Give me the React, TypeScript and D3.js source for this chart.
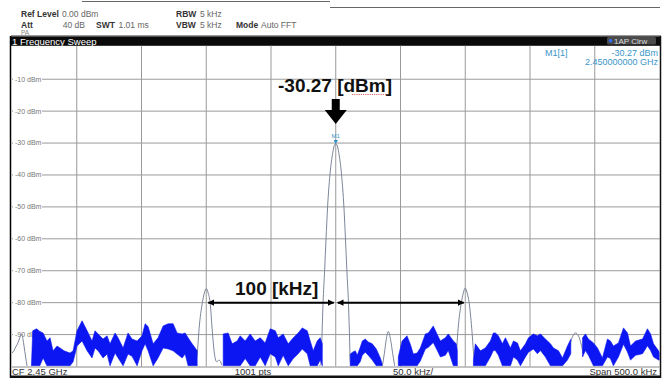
import * as d3 from "d3"

type Band = [number, number, number] // kHz offset, max dBm, min dBm
type Pt = [number, number] // kHz offset, dBm

const W = 665
const H = 378

const levelTicks = [-10, -20, -30, -40, -50, -60, -70, -80, -90]
const freqDivs = [-200, -150, -100, -50, 0, 50, 100, 150, 200]

const markerFreq = 0
const markerLevel = -30.27

// blue max/min hold band in pieces
const blueSeg1: Band[] = [
  [-235, -99.8, -99.8], [-234, -88.8, -99.8], [-231, -88.2, -99.8], [-228.5, -89.0, -99.8],
  [-226, -89.5, -97.3], [-223, -92.0, -99.8], [-220.6, -91.0, -99.8], [-218.3, -95.1, -99.8],
  [-215.2, -93.6, -99.8], [-212.9, -94.2, -99.8], [-209.8, -95.1, -99.8], [-205.2, -95.8, -99.8],
  [-202.8, -95.1, -98.5], [-199.8, -88.8, -93.6], [-195.9, -85.7, -92.0], [-192, -88.8, -95.1],
  [-188.2, -92.0, -97.3], [-185.9, -88.8, -94.2], [-183.5, -89.8, -95.1], [-179.7, -91.4, -97.3],
  [-176.6, -90.4, -96.1], [-174.3, -92.9, -99.8], [-170.4, -89.5, -95.8], [-168.1, -91.0, -97.3],
  [-164.2, -94.2, -99.8], [-160.4, -89.5, -96.1], [-157.3, -91.4, -96.8], [-153.4, -92.0, -99.8],
  [-149.6, -90.4, -95.1], [-147.2, -86.6, -92.9], [-144.9, -87.5, -95.1], [-141, -92.9, -99.8],
  [-137.2, -91.0, -97.3], [-133.3, -87.3, -94.2], [-129.4, -86.6, -94.5], [-125.6, -86.6, -95.1],
  [-122.5, -89.5, -96.1], [-118.6, -89.8, -97.3], [-116.3, -89.5, -96.1], [-114, -91.0, -99.8],
  [-110.9, -92.9, -99.8], [-108.5, -94.2, -99.8], [-107, -95.1, -99.8],
]
const blueSeg2: Band[] = [
  [-86.9, -89.8, -99.8], [-83.1, -89.5, -99.8], [-80, -92.9, -99.8], [-76.1, -92.0, -99.8],
  [-73.8, -90.4, -99.8], [-69.9, -92.0, -97.5], [-66.1, -89.8, -99.8], [-62.2, -92.0, -99.8],
  [-58.3, -91.0, -97.0], [-54.5, -92.6, -99.8], [-50.6, -88.2, -96.0], [-46.7, -88.8, -97.0],
  [-44.4, -91.0, -99.8], [-40.6, -89.8, -96.5], [-36.7, -92.9, -99.8], [-32.8, -91.0, -97.5],
  [-29, -89.5, -96.0], [-25.9, -87.9, -94.5], [-22, -88.8, -96.0], [-19.7, -92.0, -99.8],
  [-17.4, -95.1, -99.8], [-14.3, -92.0, -99.8], [-12, -91.0, -98.0], [-10.4, -92.9, -99.8],
]
const blueSeg3: Band[] = [
  [11.2, -96.1, -99.8], [13, -95.5, -99.8], [15.1, -95.1, -99.8], [16.6, -96.5, -99.8],
  [18.9, -94.0, -98.5], [20.5, -92.0, -96.5], [22.8, -91.4, -95.5], [25.1, -92.3, -96.5],
  [28.2, -92.9, -98.0], [31.3, -94.5, -99.8], [34.4, -97.3, -99.8], [35.7, -99.0, -99.8],
]
const blueSeg4: Band[] = [
  [48.3, -97.0, -99.8], [51.2, -92.0, -99.8], [55, -90.4, -99.8], [57.6, -93.0, -99.8],
  [59.9, -96.1, -99.8], [62.8, -95.8, -99.8], [65.3, -94.2, -98.3], [69.2, -89.8, -94.5],
  [71.5, -89.5, -94.0], [75.3, -87.3, -92.5], [78.4, -90.0, -95.0], [80.8, -92.0, -97.0],
  [84.6, -91.0, -96.5], [86.9, -89.8, -95.0], [90.8, -92.0, -99.8], [93.1, -92.9, -99.8],
  [93.9, -95.0, -99.8],
]
const blueSeg5: Band[] = [
  [106.3, -98.0, -99.8], [107.8, -92.9, -99.8], [111.7, -95.1, -99.8], [115.5, -94.2, -99.8],
  [119.4, -92.0, -97.0], [121.7, -89.5, -95.0], [123.3, -89.5, -95.0], [125.6, -90.4, -96.5],
  [128.7, -92.9, -99.8], [131, -91.0, -99.8], [134.9, -94.2, -99.8], [137.2, -92.0, -97.0],
  [140.3, -92.6, -98.0], [142.6, -95.1, -99.8], [146.5, -92.9, -97.0], [148.8, -91.0, -95.5],
  [152.6, -89.8, -94.5], [155.7, -90.4, -96.0], [158.1, -89.8, -95.0], [161.9, -91.4, -97.0],
  [165.8, -92.9, -99.8], [168.1, -94.2, -99.8], [172, -95.1, -99.8], [175.1, -97.3, -99.8],
  [178.9, -93.6, -98.0], [181.5, -91.5, -96.0],
]
const blueSeg6: Band[] = [
  [190.6, -91.0, -97.0], [192.8, -89.8, -95.0], [195.1, -91.4, -96.5], [199, -92.6, -99.8],
  [202.1, -94.2, -99.8], [205.9, -97.3, -99.8], [209.8, -91.4, -97.0], [212.1, -92.0, -97.5],
  [214.4, -93.6, -99.8], [218.3, -92.6, -97.0], [222.2, -87.9, -93.0], [225.3, -89.5, -95.5],
  [227.6, -93.6, -98.0], [231.5, -92.0, -96.5], [236.9, -91.4, -96.0], [240.7, -88.2, -93.5],
  [243.1, -89.8, -95.0], [245.4, -92.9, -97.0], [249.3, -95.1, -98.0], [250, -95.8, -98.0],
]

// gray clear-write trace, only where it shows above the blue
const grayEdge: Pt[] = [
  [-250, -95.8], [-248.5, -95.0], [-247, -93.8], [-245.4, -92.6], [-244, -91.0],
  [-242.5, -89.8], [-241.5, -91.5], [-240.7, -93.6], [-239.5, -97.0], [-238.4, -99.8],
]
const grayLeftLobe: Pt[] = [
  [-108.5, -98.5], [-107, -96], [-105.5, -88], [-103, -80], [-101.5, -77], [-100, -75.6],
  [-98.5, -77], [-97, -80], [-95.5, -88], [-94, -95], [-92, -98.5], [-90, -98], [-88, -99.5],
]
const grayMainLobe: Pt[] = [
  [-12.5, -99.8], [-11.2, -98.5], [-10.6, -90], [-9.8, -80], [-8.6, -70], [-7.5, -60],
  [-6.3, -50], [-4.5, -40], [-2.3, -33], [-1, -30.6], [0, -30.27], [1, -30.6], [2.3, -33],
  [4.5, -40], [6.3, -50], [7.5, -60], [8.6, -70], [9.8, -80], [10.6, -90], [11.2, -98.5],
  [12.5, -99.8],
]
const grayBump1: Pt[] = [
  [36, -99.8], [37.5, -96], [39, -91.5], [40.6, -89], [42.3, -91.5], [44, -96], [45.5, -99.8],
]
const grayRightLobe: Pt[] = [
  [92, -98.5], [93, -96], [94.5, -88], [97, -80], [98.5, -77], [100, -75.4], [101.5, -77],
  [103, -80], [105, -88], [106.5, -96], [108, -99.5],
]
const grayBump2: Pt[] = [
  [179, -97], [181, -93], [183, -90.5], [185.1, -89.5], [187.5, -90.5], [189.5, -93], [191, -96],
]

const blueSegments = [blueSeg1, blueSeg2, blueSeg3, blueSeg4, blueSeg5, blueSeg6]
const graySegments = [grayEdge, grayLeftLobe, grayMainLobe, grayBump1, grayRightLobe, grayBump2]

const FONT = "'Liberation Sans', Arial, sans-serif"

export default function App() {
  const left = 12
  const right = 659.5
  const top = 47.3
  const bottom = 366.5

  const x = d3.scaleLinear().domain([-250, 250]).range([left, right])
  const y = d3.scaleLinear().domain([0, -100]).range([top, bottom])

  const band = d3
    .area<Band>()
    .x((d) => x(d[0]))
    .y0((d) => y(d[2]))
    .y1((d) => y(d[1]))

  const trace = d3
    .line<Pt>()
    .x((d) => x(d[0]))
    .y((d) => y(d[1]))
    .curve(d3.curveMonotoneX)

  const mx = x(markerFreq)
  const my = y(markerLevel)
  const arrowY = y(-80)

  return (
    <svg width={W} height={H} style={{ position: "fixed", left: 0, top: 0, display: "block", background: "#fff" }}>
      <defs>
        <clipPath id="plot">
          <rect x={left} y={top} width={right - left} height={bottom - top} />
        </clipPath>
        <marker id="head" viewBox="0 0 10 10" refX="9" refY="5" markerWidth="3.2" markerHeight="3.2" orient="auto-start-reverse">
          <path d="M0,0 L10,5 L0,10 z" fill="#000" />
        </marker>
      </defs>

      {/* header */}
      <line x1={82} x2={330} y1={1.5} y2={1.5} stroke="#666" strokeWidth={1} />
      <line x1={330} x2={660} y1={7.5} y2={7.5} stroke="#666" strokeWidth={1} />
      <g fontFamily={FONT} fontSize={8.5}>
        <text x={21} y={17} fontWeight="bold" fill="#333">Ref Level</text>
        <text x={62} y={17} fill="#666">0.00 dBm</text>
        <text x={21} y={27.5} fontWeight="bold" fill="#333">Att</text>
        <text x={85} y={27.5} fill="#666" textAnchor="end">40 dB</text>
        <text x={96} y={27.5} fontWeight="bold" fill="#333">SWT</text>
        <text x={118.5} y={27.5} fill="#666">1.01 ms</text>
        <text x={176} y={17} fontWeight="bold" fill="#333">RBW</text>
        <text x={200} y={17} fill="#666">5 kHz</text>
        <text x={176} y={27.5} fontWeight="bold" fill="#333">VBW</text>
        <text x={200} y={27.5} fill="#666">5 kHz</text>
        <text x={236} y={27.5} fontWeight="bold" fill="#333">Mode</text>
        <text x={261} y={27.5} fill="#666">Auto FFT</text>
        <text x={21} y={35} fill="#888" fontSize={6.5}>PA</text>
      </g>
      <line x1={11} x2={661} y1={35.5} y2={35.5} stroke="#999" />

      {/* title bar */}
      <rect x={10} y={36.3} width={651} height={9.5} fill="#0a0a0a" />
      <text x={12} y={44.5} fill="#fff" fontFamily={FONT} fontSize={9.5}>1 Frequency Sweep</text>
      <rect x={607} y={37} width={49} height={7.5} rx={1.5} fill="#4a4a4a" />
      <circle cx={610.5} cy={40.8} r={1.8} fill="#2f6cff" />
      <text x={614} y={43.8} fill="#ddd" fontFamily={FONT} fontSize={8}>1AP Clrw</text>

      {/* grid */}
      <g stroke="#9a9a9a" strokeWidth={1}>
        {levelTicks.map((t) => (
          <line key={t} x1={left} x2={right} y1={y(t)} y2={y(t)} />
        ))}
        {freqDivs.map((f) => (
          <line key={f} x1={x(f)} x2={x(f)} y1={top - 1.5} y2={bottom} />
        ))}
      </g>
      <g fontFamily={FONT} fontSize={7} fill="#777">
        {levelTicks.map((t) => (
          <g key={t}>
            <rect x={left + 1} y={y(t) - 3.5} width={29} height={7} fill="#fff" />
            <text x={left + 3} y={y(t) + 2.4}>{`${t} dBm`}</text>
          </g>
        ))}
      </g>

      {/* traces */}
      <g clipPath="url(#plot)">
        {graySegments.map((s, i) => (
          <path key={i} d={trace(s) ?? ""} fill="none" stroke="#7d8598" strokeWidth={1} />
        ))}
        {blueSegments.map((s, i) => (
          <path key={i} d={band(s) ?? ""} fill="#0c16f2" stroke="#0c16f2" strokeWidth={0.6} strokeLinejoin="round" />
        ))}
      </g>

      {/* marker */}
      <path d={`M${mx - 2.2},${my - 4} L${mx + 2.2},${my - 4} L${mx},${my} z`} fill="#2e8fd0" />
      <text x={mx} y={my - 5.5} textAnchor="middle" fontFamily={FONT} fontSize={6} fill="#3a96c8">M1</text>

      <g fontFamily={FONT} fontSize={9} fill="#3a96c8">
        <text x={545} y={55.5}>M1[1]</text>
        <text x={658} y={55.5} textAnchor="end">-30.27 dBm</text>
        <text x={658} y={64.5} textAnchor="end">2.450000000 GHz</text>
      </g>

      {/* frame */}
      <line x1={10.5} x2={10.5} y1={36} y2={378} stroke="#000" strokeWidth={1.5} />
      <line x1={660.5} x2={660.5} y1={36} y2={378} stroke="#111" strokeWidth={1.5} />
      <line x1={left} x2={right} y1={bottom + 0.5} y2={bottom + 0.5} stroke="#888" />

      {/* status bar */}
      <g fontFamily={FONT} fontSize={9.5} fill="#333">
        <text x={12} y={375}>CF 2.45 GHz</text>
        <text x={253} y={375} textAnchor="middle">1001 pts</text>
        <text x={393} y={375}>50.0 kHz/</text>
        <text x={657} y={375} textAnchor="end">Span 500.0 kHz</text>
      </g>
      <rect x={10} y={375.5} width={651} height={3} fill="#111" />

      {/* annotations */}
      <g fontFamily={FONT} fontWeight="bold" fontSize={19} fill="#111">
        <text x={278} y={92}>-30.27 [dBm]</text>
        <text x={235} y={295}>100 [kHz]</text>
      </g>
      <line x1={352} x2={386} y1={94.5} y2={94.5} stroke="#e04040" strokeWidth={0.8} strokeDasharray="1.2 1" />
      <path
        d={`M${mx - 4},99 L${mx + 4},99 L${mx + 4},110 L${mx + 11},110 L${mx},124 L${mx - 11},110 L${mx - 4},110 z`}
        fill="#000"
      />
      <g stroke="#000" strokeWidth={2}>
        <line x1={x(-100) + 2} x2={mx - 2} y1={arrowY} y2={arrowY} markerStart="url(#head)" markerEnd="url(#head)" />
        <line x1={mx + 2} x2={x(100) - 1.5} y1={arrowY} y2={arrowY} markerStart="url(#head)" markerEnd="url(#head)" />
      </g>
    </svg>
  )
}
